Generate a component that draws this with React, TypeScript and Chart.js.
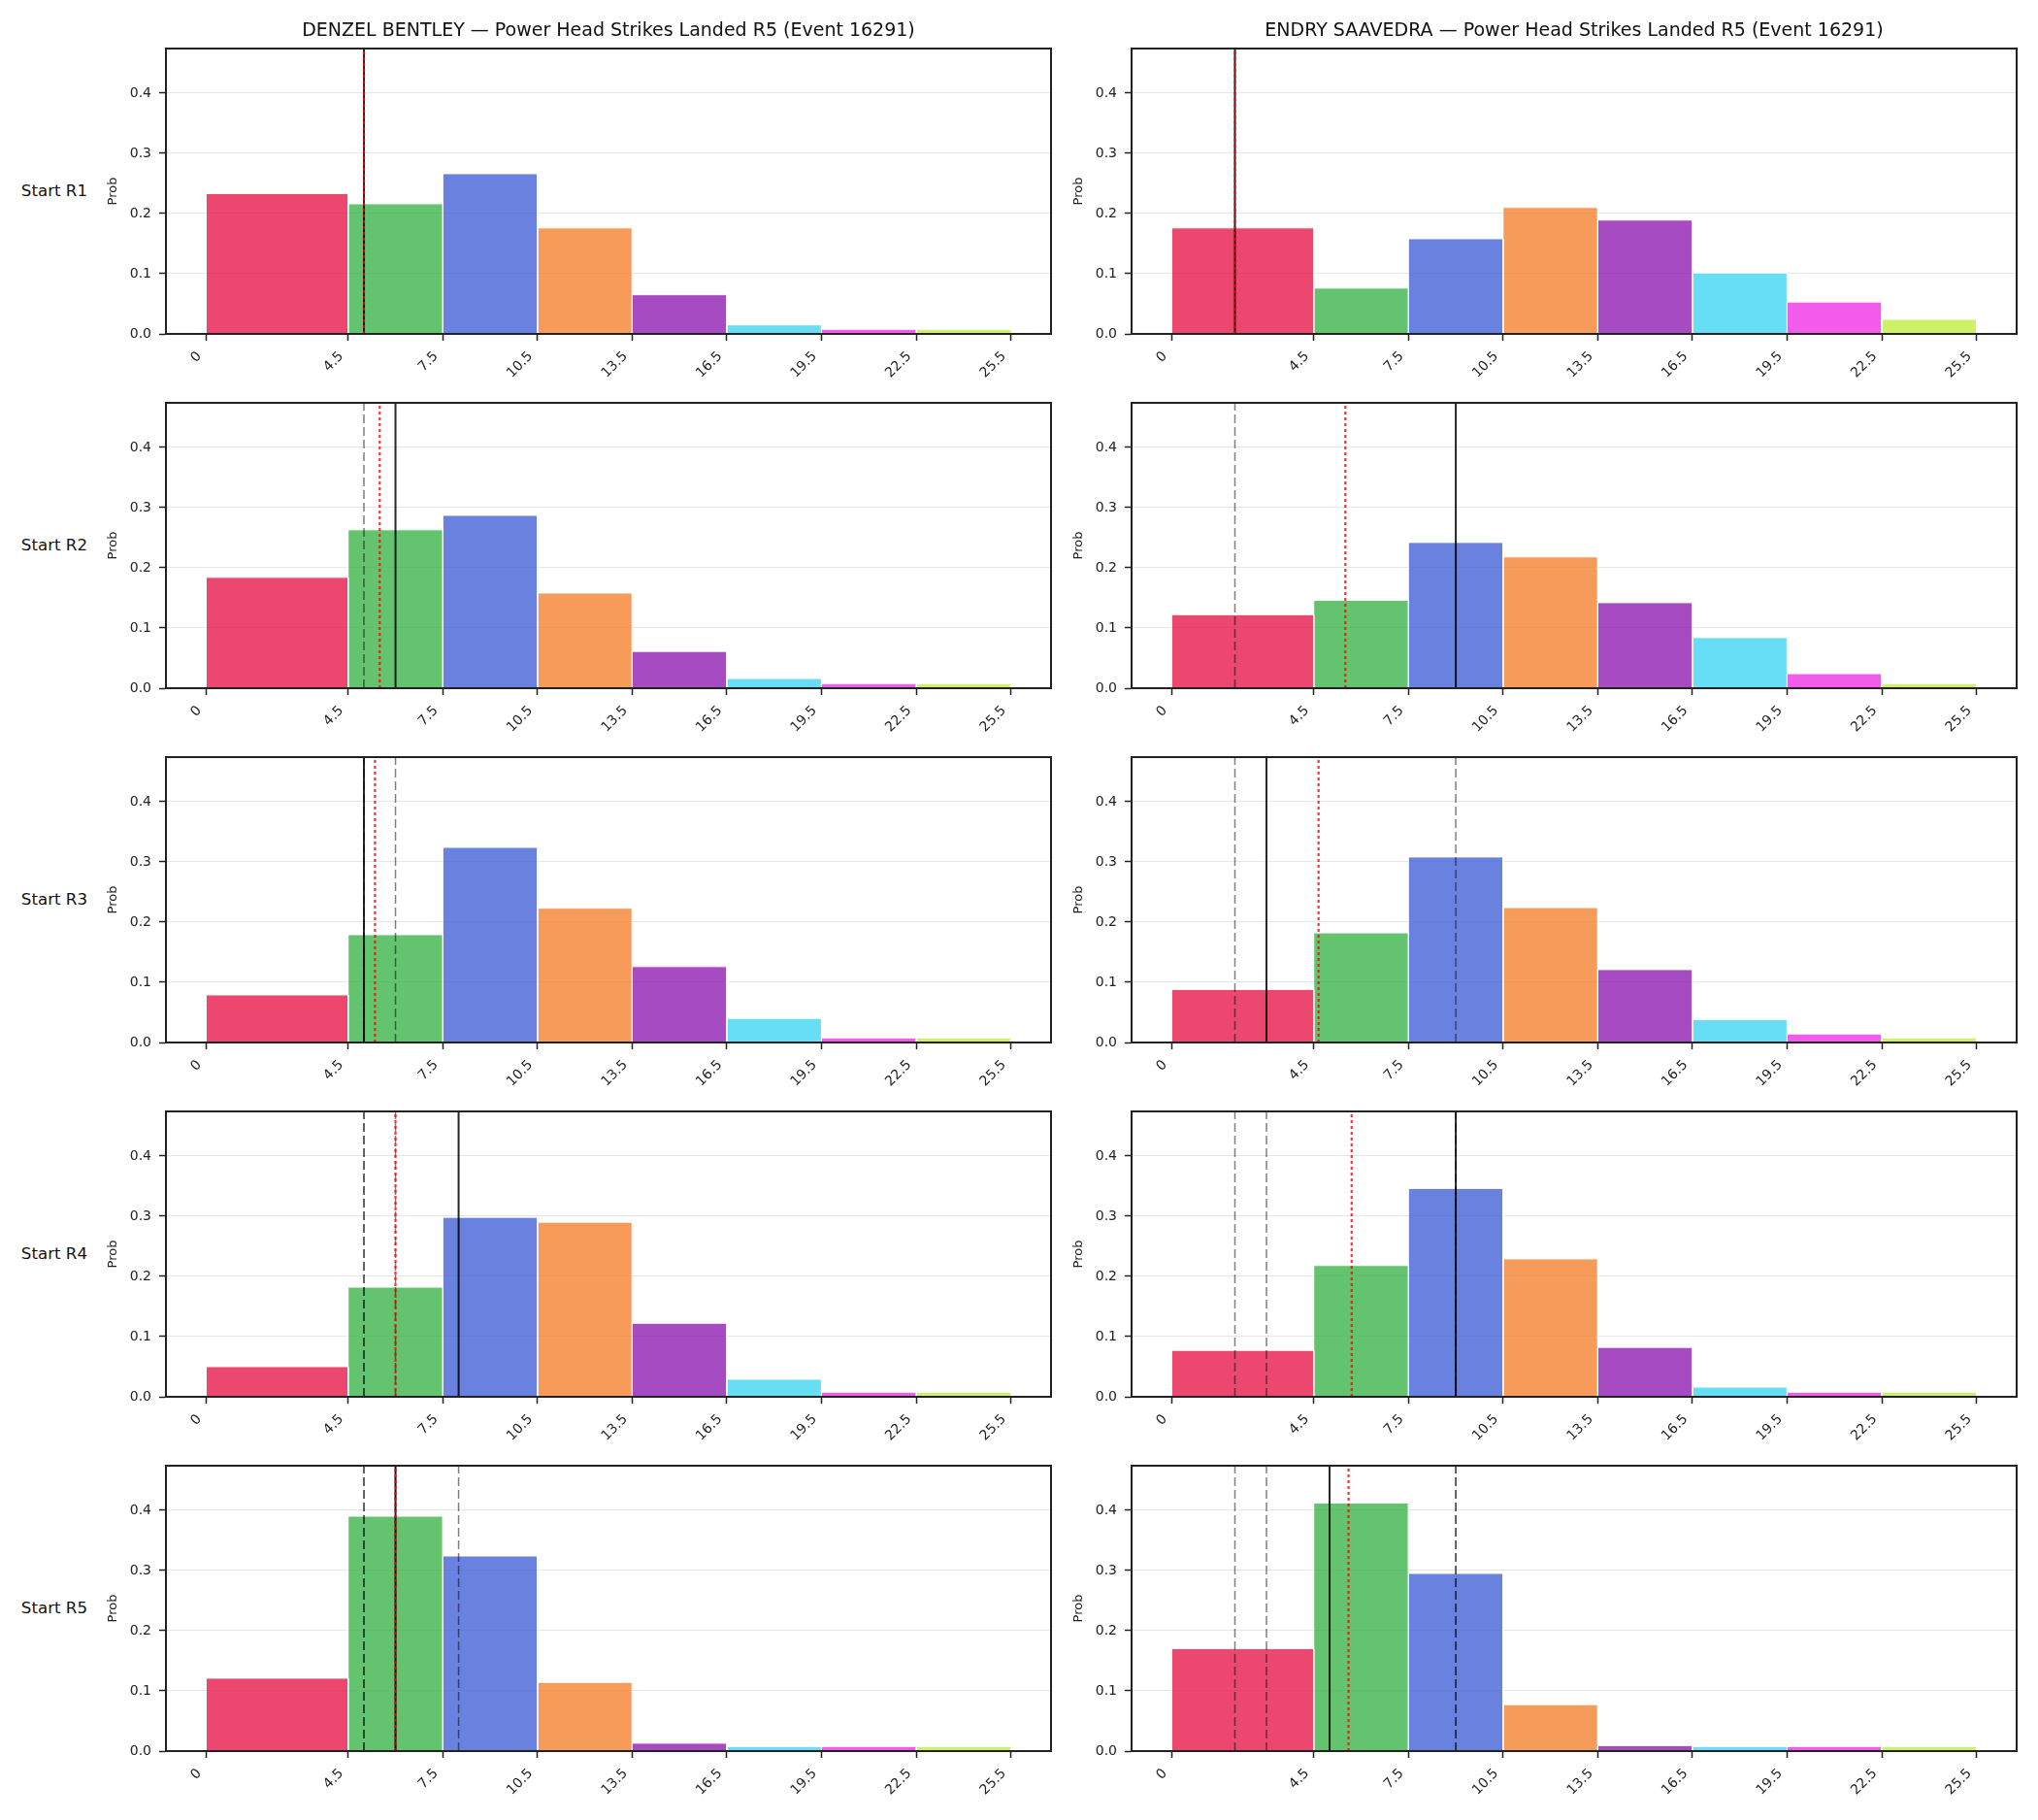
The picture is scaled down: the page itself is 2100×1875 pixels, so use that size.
import React, { useEffect, useRef } from 'react';
import { Chart, registerables } from 'chart.js';

Chart.register(...registerables);

// Histogram bin edges (final strike totals) and the fill colour of each bin
const binEdges = [0, 4.5, 7.5, 10.5, 13.5, 16.5, 19.5, 22.5, 25.5];
const binColors = ['#e6194b', '#3cb44b', '#4363d8', '#f58231', '#911eb4', '#42d4f4', '#f032e6', '#bfef45'];

const xTickValues = [0, 4.5, 7.5, 10.5, 13.5, 16.5, 19.5, 22.5, 25.5];
const xTickLabels = ['0', '4.5', '7.5', '10.5', '13.5', '16.5', '19.5', '22.5', '25.5'];
const yTickValues = [0, 0.1, 0.2, 0.3, 0.4];
const yTickLabels = ['0.0', '0.1', '0.2', '0.3', '0.4'];

const roundLabels = ['Start R1', 'Start R2', 'Start R3', 'Start R4', 'Start R5'];
const fighterNames = ['DENZEL BENTLEY', 'ENDRY SAAVEDRA'];
const marketTitle = 'Power Head Strikes Landed R5 (Event 16291)';

// Denzel Bentley: probability of each bin, as seen from the start of each round
const bentleyR1 = [0.233, 0.216, 0.266, 0.176, 0.065, 0.015, 0.0075, 0.0075];
const bentleyR2 = [0.184, 0.263, 0.287, 0.158, 0.061, 0.016, 0.0075, 0.0075];
const bentleyR3 = [0.079, 0.179, 0.324, 0.223, 0.126, 0.04, 0.0075, 0.0075];
const bentleyR4 = [0.05, 0.182, 0.298, 0.29, 0.122, 0.029, 0.0075, 0.0075];
const bentleyR5 = [0.121, 0.39, 0.324, 0.114, 0.013, 0.0075, 0.0075, 0.0075];

// Endry Saavedra: probability of each bin, as seen from the start of each round
const saavedraR1 = [0.176, 0.076, 0.158, 0.21, 0.189, 0.101, 0.053, 0.024];
const saavedraR2 = [0.122, 0.146, 0.242, 0.218, 0.142, 0.084, 0.024, 0.0075];
const saavedraR3 = [0.088, 0.182, 0.308, 0.224, 0.121, 0.038, 0.014, 0.0075];
const saavedraR4 = [0.077, 0.218, 0.346, 0.229, 0.082, 0.016, 0.0075, 0.0075];
const saavedraR5 = [0.17, 0.412, 0.295, 0.077, 0.009, 0.0075, 0.0075, 0.0075];

// Marker per round (solid); markers of earlier rounds come back dashed
const bentleyMarker = [5, 6, 5, 8, 6];
const saavedraMarker = [2, 9, 3, 9, 5];
// Model mean per round (red dotted)
const bentleyMean = [5.0, 5.5, 5.35, 6.0, 6.0];
const saavedraMean = [2.0, 5.5, 4.65, 5.7, 5.6];

const probsByFighter = [
  [bentleyR1, bentleyR2, bentleyR3, bentleyR4, bentleyR5],
  [saavedraR1, saavedraR2, saavedraR3, saavedraR4, saavedraR5],
];
const markerByFighter = [bentleyMarker, saavedraMarker];
const meanByFighter = [bentleyMean, saavedraMean];

// Axis limits
const X_MIN = -1.275;
const X_MAX = 26.775;
const Y_MAX = 0.474;

// Page geometry
const AXES_LEFT = [171, 1166];
const AXES_TOP = [50, 415, 780, 1145, 1510];
const AXES_W = 912;
const AXES_H = 294;
const Y_AXIS_W = 62;
const SIDE_PAD = 62;
const X_AXIS_H = 60;
const TITLE_H = 50;
const TOP_PAD = 10;

const FONT = "'DejaVu Sans', sans-serif";
const INK = '#222222';

Chart.defaults.font.family = FONT;

function withAlpha(hex: string, a: number): string {
  const n = parseInt(hex.slice(1), 16);
  return `rgba(${(n >> 16) & 255},${(n >> 8) & 255},${n & 255},${a})`;
}

const frame = {
  id: 'frame',
  afterDraw(chart: any) {
    const { ctx, chartArea } = chart;
    ctx.save();
    ctx.strokeStyle = INK;
    ctx.lineWidth = 2;
    ctx.strokeRect(chartArea.left, chartArea.top, chartArea.right - chartArea.left, chartArea.bottom - chartArea.top);
    ctx.restore();
  },
};

function vline(x: number, color: string, width: number, dash: number[]) {
  return {
    type: 'line',
    data: [{ x, y: 0 }, { x, y: Y_MAX }],
    borderColor: color,
    borderWidth: width,
    borderDash: dash,
    borderCapStyle: 'butt',
    pointRadius: 0,
    fill: false,
  };
}

function Panel({ fighter, round }: { fighter: number; round: number }) {
  const ref = useRef<HTMLCanvasElement>(null);
  const hasTitle = round === 0;
  const padTop = hasTitle ? TITLE_H : TOP_PAD;
  const width = Y_AXIS_W + AXES_W + SIDE_PAD;
  const height = padTop + AXES_H + X_AXIS_H;
  const left = AXES_LEFT[fighter] - Y_AXIS_W;
  const top = AXES_TOP[round] - padTop;

  useEffect(() => {
    const probs = probsByFighter[fighter][round];
    const markers = markerByFighter[fighter];
    const datasets: any[] = [];
    datasets.push(vline(meanByFighter[fighter][round], 'rgba(255,0,0,0.8)', 2.2, [3, 3]));
    datasets.push(vline(markers[round], 'rgba(0,0,0,0.85)', 2, []));
    for (let k = 0; k < round; k++) {
      datasets.push(vline(markers[k], 'rgba(0,0,0,0.5)', 1.5, [9, 4]));
    }
    probs.forEach((p, i) => {
      const lo = binEdges[i];
      const hi = binEdges[i + 1];
      datasets.push({
        type: 'line',
        data: [
          { x: lo, y: 0 },
          { x: lo, y: p },
          { x: hi, y: p },
          { x: hi, y: 0 },
        ],
        borderColor: 'rgba(255,255,255,0.9)',
        borderWidth: 1,
        backgroundColor: withAlpha(binColors[i], 0.8),
        fill: 'origin',
        pointRadius: 0,
        tension: 0,
      });
    });

    const chart = new Chart(ref.current as HTMLCanvasElement, {
      type: 'line',
      data: { datasets },
      plugins: [frame],
      options: {
        animation: false,
        responsive: false,
        devicePixelRatio: 1,
        events: [],
        layout: { padding: { top: hasTitle ? 0 : TOP_PAD, right: 0, left: 0, bottom: 0 } },
        plugins: {
          legend: { display: false },
          tooltip: { enabled: false },
          title: {
            display: hasTitle,
            text: `${fighterNames[fighter]} — ${marketTitle}`,
            color: '#111111',
            font: { family: FONT, size: 19, weight: 'normal' },
            padding: { top: 20.3, bottom: 6.9 },
          },
        },
        scales: {
          x: {
            type: 'linear',
            min: X_MIN,
            max: X_MAX,
            bounds: 'data',
            z: 1,
            afterBuildTicks: (s: any) => {
              s.ticks = xTickValues.map((v) => ({ value: v }));
            },
            afterFit: (s: any) => {
              s.height = X_AXIS_H;
              s.paddingLeft = 0;
              s.paddingRight = 0;
            },
            ticks: {
              autoSkip: false,
              minRotation: 45,
              maxRotation: 45,
              padding: 8,
              labelOffset: -7,
              color: INK,
              font: { family: FONT, size: 14 },
              callback: (_v: any, i: number) => xTickLabels[i],
            },
            grid: {
              display: true,
              drawOnChartArea: false,
              drawTicks: true,
              tickLength: 7,
              tickWidth: 1.5,
              tickColor: INK,
            },
            border: { display: true, color: INK, width: 2 },
          },
          y: {
            type: 'linear',
            position: 'left',
            min: 0,
            max: Y_MAX,
            bounds: 'data',
            z: 1,
            afterBuildTicks: (s: any) => {
              s.ticks = yTickValues.map((v) => ({ value: v }));
            },
            afterFit: (s: any) => {
              s.width = Y_AXIS_W;
              s.paddingTop = 0;
              s.paddingBottom = 0;
            },
            ticks: {
              padding: 8,
              color: INK,
              font: { family: FONT, size: 14 },
              callback: (_v: any, i: number) => yTickLabels[i],
            },
            grid: {
              color: 'rgba(176,176,176,0.3)',
              lineWidth: 1,
              tickLength: 7,
              tickWidth: 1.5,
              tickColor: INK,
            },
            border: { display: true, color: INK, width: 2 },
            title: {
              display: true,
              text: 'Prob',
              color: INK,
              font: { family: FONT, size: 13 },
              padding: { top: 0, bottom: 0 },
            },
          },
          // Empty right-hand gutter so the title centres over the plot
          gutter: {
            type: 'linear',
            position: 'right',
            min: 0,
            max: Y_MAX,
            grid: { display: false, drawOnChartArea: false },
            ticks: { display: false },
            border: { display: false },
            afterFit: (s: any) => {
              s.width = SIDE_PAD;
              s.paddingTop = 0;
              s.paddingBottom = 0;
            },
          },
        },
      } as any,
    });
    return () => chart.destroy();
  }, [fighter, round]);

  return (
    <canvas
      ref={ref}
      width={width}
      height={height}
      style={{ position: 'absolute', left, top, width, height }}
    />
  );
}

export default function App() {
  return (
    <div style={{ position: 'absolute', left: 0, top: 0, width: 2100, height: 1875, background: '#ffffff' }}>
      {roundLabels.map((label, r) => (
        <div
          key={label}
          style={{
            position: 'absolute',
            left: 0,
            width: 90,
            top: AXES_TOP[r] + AXES_H / 2,
            transform: 'translateY(-50%)',
            textAlign: 'right',
            fontFamily: FONT,
            fontSize: 16.67,
            lineHeight: 1,
            color: '#111111',
            whiteSpace: 'nowrap',
          }}
        >
          {label}
        </div>
      ))}
      {[0, 1].map((f) =>
        roundLabels.map((_, r) => <Panel key={`${f}-${r}`} fighter={f} round={r} />)
      )}
    </div>
  );
}
